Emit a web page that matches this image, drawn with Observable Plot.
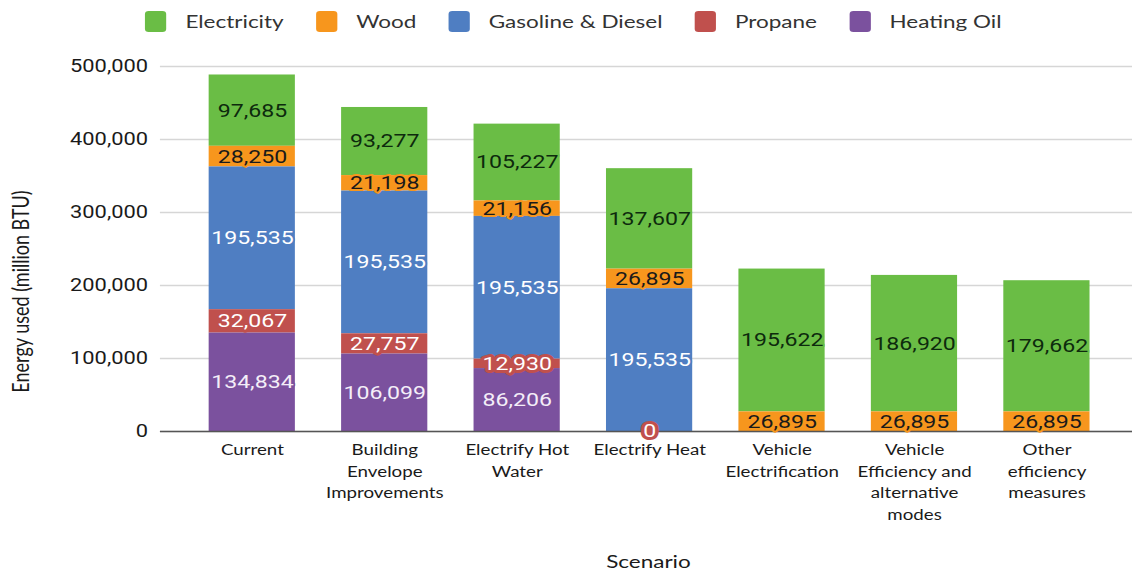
<!DOCTYPE html>
<html>
<head>
<meta charset="utf-8">
<script src="https://cdn.jsdelivr.net/npm/d3@7"></script>
<script src="https://cdn.jsdelivr.net/npm/@observablehq/plot@0.6"></script>
<style>
  html, body { margin: 0; padding: 0; background: #fff; }
  #wrap { width: 906px; transform: scaleX(1.24945); transform-origin: 0 0; }
  #legend { height: 42px; display: flex; justify-content: center; align-items: center;
            font-family: Lato, sans-serif; font-size: 18px; color: #333; padding-left: 12px; box-sizing: border-box; }
  .item { display: flex; align-items: center; margin: 0 13px; }
  .sw { width: 17px; height: 21px; border-radius: 3px; margin-right: 15px; }
  #chart svg { display: block; overflow: visible; }
</style>
</head>
<body>
<div id="wrap">
  <div id="legend"></div>
  <div id="chart"></div>
</div>
<script>
// ---- data ----
const scenarios = ["Current", "Building Envelope Improvements", "Electrify Hot Water", "Electrify Heat",
  "Vehicle Electrification", "Vehicle Efficiency and alternative modes", "Other efficiency measures"];
const scenarioLabels = ["Current", "Building\nEnvelope\nImprovements", "Electrify Hot\nWater", "Electrify Heat",
  "Vehicle\nElectrification", "Vehicle\nEfficiency and\nalternative\nmodes", "Other\nefficiency\nmeasures"];
const seriesNames = ["Electricity", "Wood", "Gasoline & Diesel", "Propane", "Heating Oil"];
const electricity = [97685, 93277, 105227, 137607, 195622, 186920, 179662];
const wood = [28250, 21198, 21156, 26895, 26895, 26895, 26895];
const gasolineDiesel = [195535, 195535, 195535, 195535, null, null, null];
const propane = [32067, 27757, 12930, 0, null, null, null];
const heatingOil = [134834, 106099, 86206, null, null, null, null];
const yTicks = [0, 100000, 200000, 300000, 400000, 500000];
const seriesColors = ["#6abd45", "#f7961d", "#4f7ec2", "#c0504d", "#7b519e"];
const labelColors = ["#0d2a0d", "#1a1a1a", "#ffffff", "#ffffff", "#f4eef8"];
const haloWidths = [3, 4, 3, 6, 3];
const yTitle = "Energy used (million BTU)";
const xTitle = "Scenario";

// ---- build table ----
const seriesValues = [electricity, wood, gasolineDiesel, propane, heatingOil];
const rows = [];
seriesNames.forEach((s, k) => seriesValues[k].forEach((v, i) => {
  if (v != null) rows.push({scenario: scenarios[i], series: s, value: v});
}));
const stackOrder = seriesNames.slice().reverse();
const fmt = d3.format(",");

// ---- legend ----
const legend = document.getElementById("legend");
seriesNames.forEach((s, k) => {
  const it = document.createElement("div");
  it.className = "item";
  const sw = document.createElement("div");
  sw.className = "sw";
  sw.style.background = seriesColors[k];
  const tx = document.createElement("span");
  tx.textContent = s;
  it.appendChild(sw); it.appendChild(tx);
  legend.appendChild(it);
});

// ---- labels per series ----
const labelMarks = seriesNames.map((s, k) => Plot.text(rows, Plot.stackY({
  x: "scenario", y: "value", z: "series", order: stackOrder,
  text: d => d.series === s ? fmt(d.value) : null,
  fill: labelColors[k], stroke: seriesColors[k], strokeWidth: haloWidths[k], paintOrder: "stroke",
  fontSize: 18.5, fontFamily: "Roboto"
})));

const chart = Plot.plot({
  width: 906, height: 531,
  marginTop: 24, marginBottom: 142, marginLeft: 128, marginRight: 0,
  style: {fontFamily: "Lato, sans-serif", background: "#fff"},
  x: {domain: scenarios, range: [136, 902], paddingInner: 0.35, paddingOuter: 0.278, axis: null},
  y: {domain: [0, 500000], axis: null},
  color: {domain: seriesNames, range: seriesColors},
  marks: [
    Plot.gridY(yTicks, {stroke: "#d6d6d6", strokeOpacity: 1, strokeWidth: 1.5}),
    Plot.axisY(yTicks, {tickSize: 0, tickPadding: 10, tickFormat: fmt, fontSize: 17.5, fontFamily: "Roboto", fill: "#1a1a1a", label: null}),
    Plot.barY(rows, {x: "scenario", y: "value", z: "series", fill: "series", order: stackOrder}),
    Plot.ruleY([0], {stroke: "#555", strokeWidth: 1.5}),
    ...labelMarks,
    Plot.text(scenarios, {x: d => d, text: (d, i) => scenarioLabels[i], frameAnchor: "bottom", lineAnchor: "top",
      dy: 8, lineHeight: 1.45, fontSize: 15, fill: "#1a1a1a"}),
    Plot.text([yTitle], {text: d => d, frameAnchor: "left", textAnchor: "middle", rotate: -90,
      dx: -111, dy: 42.5, fontSize: 18, fill: "#1a1a1a"}),
    Plot.text([xTitle], {text: d => d, frameAnchor: "bottom", textAnchor: "middle", dx: 1.5, dy: 136, fontSize: 18, fill: "#1a1a1a"})
  ]
});
document.getElementById("chart").appendChild(chart);
</script>
</body>
</html>
